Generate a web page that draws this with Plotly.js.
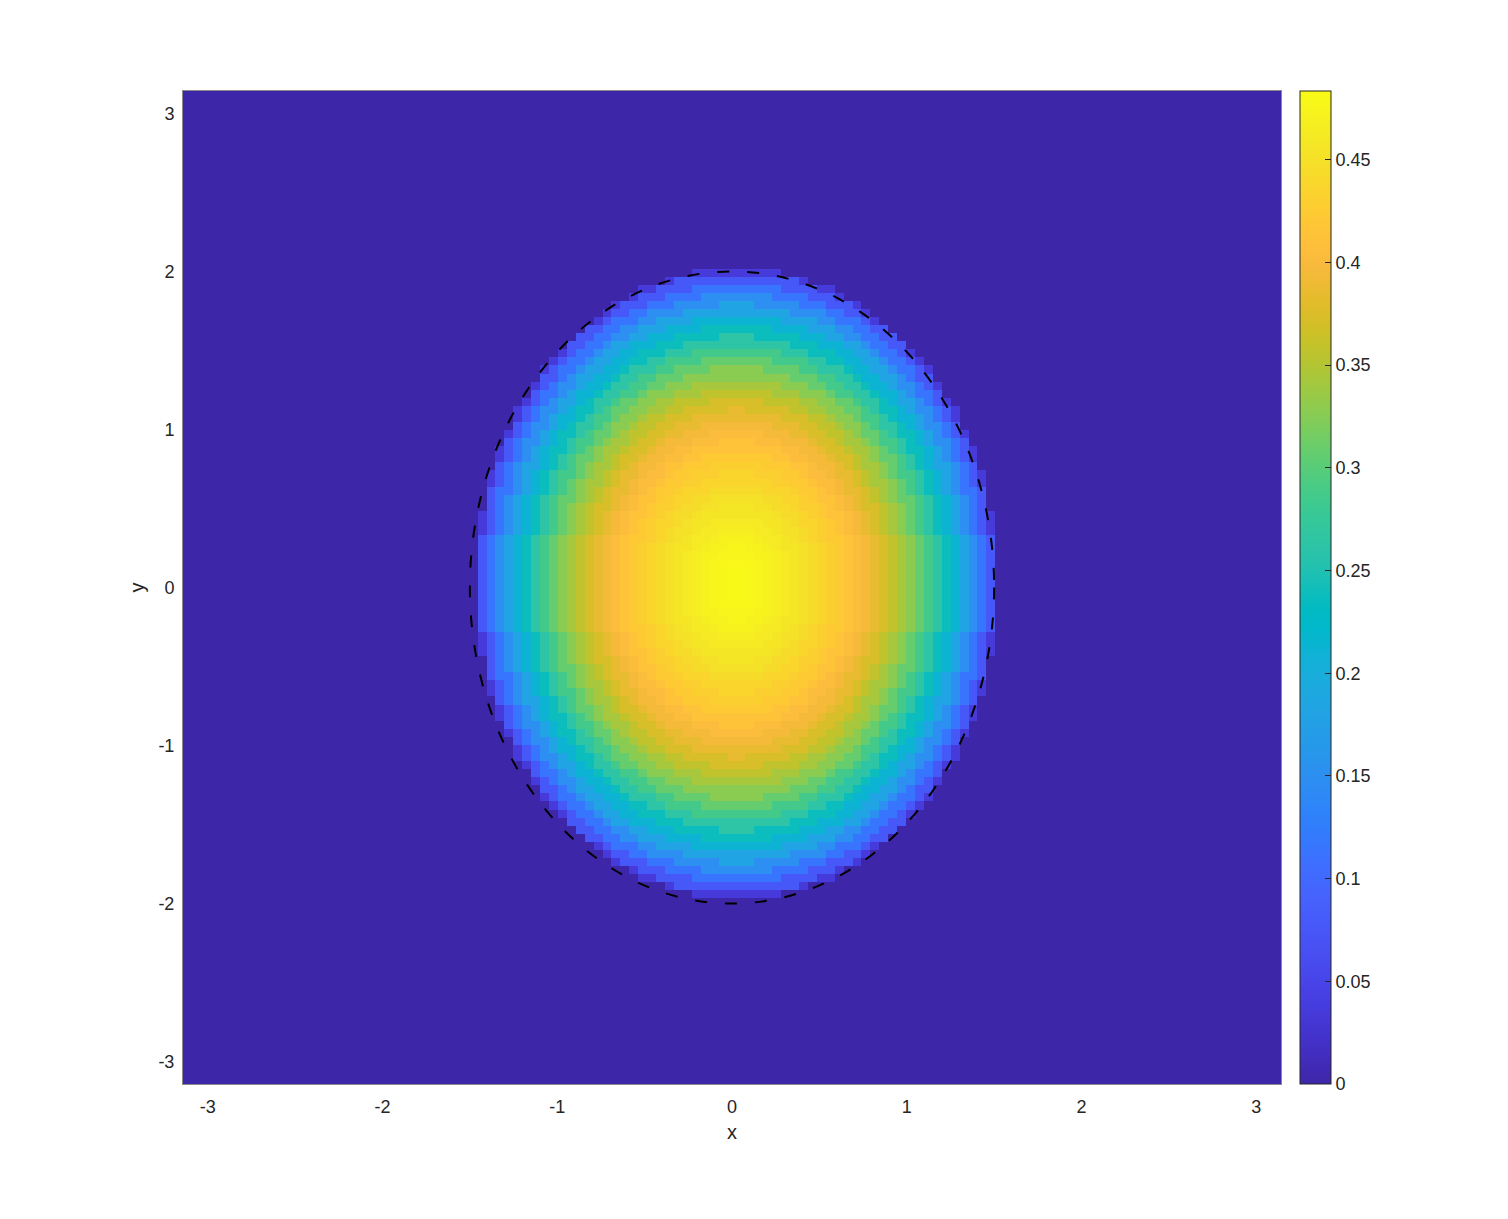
<!DOCTYPE html>
<html>
<head>
<meta charset="utf-8">
<script src="https://cdn.plot.ly/plotly-3.0.1.min.js"></script>
<style>
  html, body { margin: 0; padding: 0; background: #fff; }
  #plot { width: 1508px; height: 1219px; }
</style>
</head>
<body>
<div id="plot"></div>
<script>
// tick labels
const xTicks = [-3, -2, -1, 0, 1, 2, 3];
const yTicks = [-3, -2, -1, 0, 1, 2, 3];
const cbTicks = [0, 0.05, 0.1, 0.15, 0.2, 0.25, 0.3, 0.35, 0.4, 0.45];

// grid: vertices over [-pi, pi]
const gridCount = 124;

// ellipse support (semi axes)
const semiX = 1.5;
const semiY = 2;

// values, from the centre (x = 0) to the edge (x = 1.5), step 0.05
const profileX = [0, 0.05, 0.1, 0.15, 0.2, 0.25, 0.3, 0.35, 0.4, 0.45, 0.5, 0.55, 0.6, 0.65, 0.7, 0.75,
  0.8, 0.85, 0.9, 0.95, 1.0, 1.05, 1.1, 1.15, 1.2, 1.25, 1.3, 1.35, 1.4, 1.45, 1.5];
const profileZ = [0.4835, 0.481, 0.479, 0.476, 0.472, 0.467, 0.462, 0.457, 0.451, 0.444, 0.437, 0.430,
  0.423, 0.414, 0.405, 0.396, 0.386, 0.373, 0.358, 0.343, 0.327, 0.308, 0.287, 0.263, 0.238, 0.211,
  0.182, 0.150, 0.115, 0.077, 0.035];
const outsideZ = 0;
const zMax = 0.4835;

// parula colormap (64 entries)
const parula = [
  [0.2422,0.1504,0.6603],[0.2504,0.1650,0.7076],[0.2578,0.1818,0.7511],[0.2647,0.1978,0.7952],
  [0.2706,0.2147,0.8364],[0.2751,0.2342,0.8710],[0.2783,0.2559,0.8991],[0.2803,0.2782,0.9221],
  [0.2813,0.3006,0.9414],[0.2810,0.3228,0.9579],[0.2795,0.3447,0.9717],[0.2760,0.3667,0.9829],
  [0.2699,0.3892,0.9906],[0.2602,0.4123,0.9952],[0.2440,0.4358,0.9988],[0.2206,0.4603,0.9973],
  [0.1963,0.4847,0.9892],[0.1834,0.5074,0.9798],[0.1786,0.5289,0.9682],[0.1764,0.5499,0.9520],
  [0.1687,0.5703,0.9359],[0.1540,0.5902,0.9218],[0.1460,0.6091,0.9079],[0.1380,0.6276,0.8973],
  [0.1248,0.6459,0.8883],[0.1113,0.6635,0.8763],[0.0952,0.6798,0.8598],[0.0689,0.6948,0.8394],
  [0.0297,0.7082,0.8163],[0.0036,0.7203,0.7917],[0.0067,0.7312,0.7660],[0.0433,0.7411,0.7394],
  [0.0964,0.7500,0.7120],[0.1408,0.7584,0.6842],[0.1717,0.7670,0.6554],[0.1938,0.7758,0.6251],
  [0.2161,0.7843,0.5923],[0.2470,0.7918,0.5567],[0.2906,0.7973,0.5188],[0.3406,0.8008,0.4789],
  [0.3909,0.8029,0.4354],[0.4456,0.8024,0.3909],[0.5044,0.7993,0.3480],[0.5616,0.7942,0.3045],
  [0.6174,0.7876,0.2612],[0.6720,0.7793,0.2227],[0.7242,0.7698,0.1910],[0.7738,0.7598,0.1646],
  [0.8203,0.7498,0.1535],[0.8634,0.7406,0.1596],[0.9035,0.7330,0.1774],[0.9393,0.7288,0.2100],
  [0.9728,0.7298,0.2394],[0.9956,0.7434,0.2371],[0.9970,0.7659,0.2199],[0.9952,0.7893,0.2028],
  [0.9892,0.8136,0.1885],[0.9786,0.8386,0.1766],[0.9676,0.8639,0.1643],[0.9610,0.8890,0.1537],
  [0.9597,0.9135,0.1423],[0.9628,0.9373,0.1265],[0.9691,0.9606,0.1064],[0.9769,0.9839,0.0805]
];
const colorscale = parula.map((c, i) => [i / (parula.length - 1),
  "rgb(" + c.map((v) => Math.round(v * 255)).join(",") + ")"]);

// cell edges (pcolor style: cell takes the value of its lower-left vertex)
const edges = [];
for (let i = 0; i < gridCount; i++) edges.push(-Math.PI + (2 * Math.PI * i) / (gridCount - 1));

const step = profileX[1] - profileX[0];
const z = [];
for (let j = 0; j < gridCount - 1; j++) {
  const row = [];
  for (let i = 0; i < gridCount - 1; i++) {
    const r = Math.sqrt(Math.pow(edges[i] / semiX, 2) + Math.pow(edges[j] / semiY, 2));
    if (r > 1) { row.push(outsideZ); continue; }
    // nearest sample of the profile
    row.push(profileZ[Math.round((r * semiX) / step)]);
  }
  z.push(row);
}

const font = { family: "Liberation Sans, Arial, Helvetica, sans-serif", size: 18, color: "#262626" };

const trace = {
  type: "heatmap",
  x: edges,
  y: edges,
  z: z,
  zmin: 0,
  zmax: zMax,
  colorscale: colorscale,
  hoverinfo: "skip",
  colorbar: {
    thickness: 31,
    thicknessmode: "pixels",
    len: 1,
    lenmode: "fraction",
    x: 1.0173,
    xanchor: "left",
    y: 0.5,
    yanchor: "middle",
    xpad: 0,
    ypad: 0,
    outlinewidth: 1,
    outlinecolor: "#262626",
    ticks: "inside",
    ticklen: 6,
    tickwidth: 1,
    tickcolor: "#262626",
    tickvals: cbTicks,
    ticktext: cbTicks.map(String),
    tickfont: font,
  },
};

const layout = {
  width: 1508,
  height: 1219,
  margin: { l: 183, r: 227, t: 91, b: 135 },
  paper_bgcolor: "#ffffff",
  plot_bgcolor: "#ffffff",
  font: font,
  showlegend: false,
  xaxis: {
    range: [-Math.PI, Math.PI],
    tickvals: xTicks,
    ticktext: xTicks.map(String),
    ticks: "outside",
    ticklen: 6,
    tickcolor: "rgba(0,0,0,0)",
    showgrid: false,
    zeroline: false,
    showline: true,
    linecolor: "#8a8a8a",
    linewidth: 1,
    mirror: true,
    tickfont: font,
    title: { text: "x", font: { size: 20, color: "#262626" }, standoff: 9 },
  },
  yaxis: {
    range: [-Math.PI, Math.PI],
    tickvals: yTicks,
    ticktext: yTicks.map(String),
    ticks: "outside",
    ticklen: 4,
    tickcolor: "rgba(0,0,0,0)",
    showgrid: false,
    zeroline: false,
    showline: true,
    linecolor: "#8a8a8a",
    linewidth: 1,
    mirror: true,
    tickfont: font,
    title: { text: "y", font: { size: 20, color: "#262626" }, standoff: 8 },
  },
  shapes: [
    {
      type: "circle",
      xref: "x",
      yref: "y",
      x0: -semiX,
      x1: semiX,
      y0: -semiY,
      y1: semiY,
      line: { color: "#000000", width: 2, dash: "12px,18px" },
      layer: "above",
    },
  ],
};

Plotly.newPlot("plot", [trace], layout, { displayModeBar: false, staticPlot: true });
</script>
</body>
</html>
